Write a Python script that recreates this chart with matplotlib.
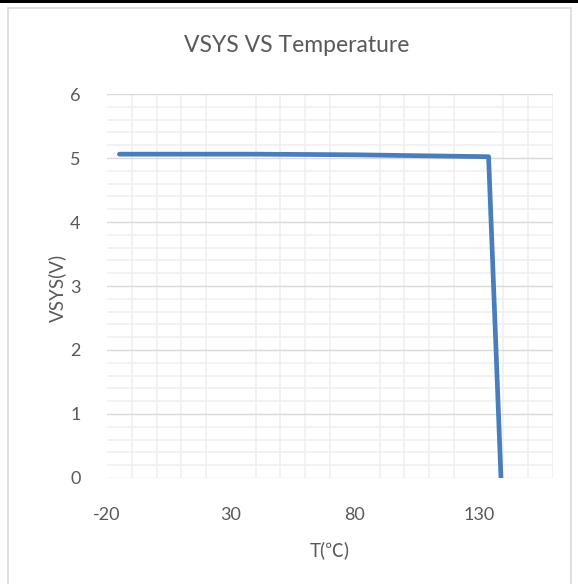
import numpy as np
import matplotlib.pyplot as plt
from matplotlib.patches import Rectangle
from matplotlib.ticker import MultipleLocator

# 温度 (℃) 与 VSYS 电压 (V)
temperature = [-15, 40, 80, 134, 139]
vsys = [5.06, 5.06, 5.05, 5.02, 0]

x_ticks = [-20, 30, 80, 130]
y_ticks = [0, 1, 2, 3, 4, 5, 6]

text_color = '#595959'
line_color = '#4a7ebb'

plt.rcParams['font.family'] = ['Lato', 'DejaVu Sans']
plt.rcParams['axes.unicode_minus'] = False

W, H = 578, 584
fig = plt.figure(figsize=(W / 100, H / 100), dpi=100)

# 截图顶部的黑边和图表外框
fig.patches.append(Rectangle((0, 1 - 3 / H), 1, 3 / H, transform=fig.transFigure,
                             facecolor='black', edgecolor='none'))
fig.patches.append(Rectangle((8 / W, -0.05), 563 / W, 1.05 - 8 / H, transform=fig.transFigure,
                             facecolor='none', edgecolor='#d9d9d9', linewidth=1.2))

ax = fig.add_axes([107 / W, (H - 478) / H, 446 / W, 384 / H])

ax.plot(temperature, vsys, color=line_color, linewidth=3.4,
        solid_capstyle='round', solid_joinstyle='round', zorder=3)

ax.set_xlim(-20, 160)
ax.set_ylim(0, 6)
ax.set_xticks(x_ticks)
ax.set_yticks(y_ticks)
ax.xaxis.set_minor_locator(MultipleLocator(10))
ax.yaxis.set_minor_locator(MultipleLocator(0.2))

ax.grid(which='minor', axis='both', color='#efefef', linewidth=1.1, zorder=0)
ax.grid(which='major', axis='y', color='#d9d9d9', linewidth=1.0, zorder=1)
ax.set_axisbelow(True)
for s in ax.spines.values():
    s.set_visible(False)

ax.tick_params(which='both', length=0)
ax.tick_params(axis='x', labelsize=13, labelcolor=text_color, pad=21)
ax.tick_params(axis='y', labelsize=13, labelcolor=text_color, pad=19)

fig.text(297 / W, 1 - 45 / H, 'VSYS VS Temperature', ha='center', va='center',
         fontsize=16.5, color=text_color)
fig.text(330 / W, 1 - 550 / H, 'T(℃)', ha='center', va='center',
         fontsize=13.5, color=text_color, family=['Lato', 'Noto Sans CJK SC', 'DejaVu Sans'])
fig.text(57 / W, 1 - 288 / H, 'VSYS(V)', ha='center', va='center', rotation=90,
         fontsize=13.5, color=text_color)

fig.savefig('out.png', dpi=100)
